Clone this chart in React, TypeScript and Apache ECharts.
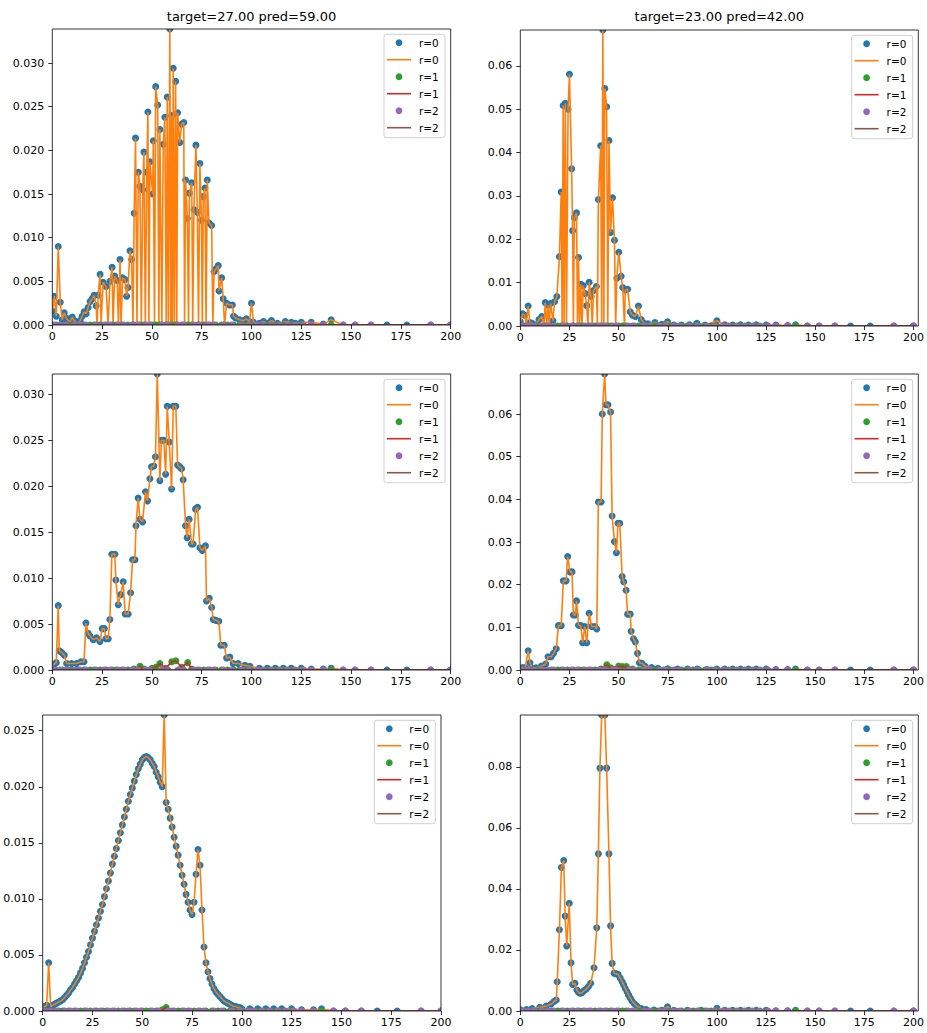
import React, { useEffect, useRef } from "react";
import * as echarts from "echarts";

const FONT = "DejaVu Sans";
const TITLES = ["target=27.00 pred=59.00", "target=23.00 pred=42.00"];
const LEGEND_LABELS = ["r=0", "r=0", "r=1", "r=1", "r=2", "r=2"];
const COLORS = ["#1f77b4", "#ff7f0e", "#2ca02c", "#d62728", "#9467bd", "#8c564b"];
const X_TICKS_STEP = 25;
const Y_STEPS = [0.005, 0.01, 0.005, 0.01, 0.005, 0.02];
const Y_DECIMALS = [3, 2, 3, 2, 3, 2];

// r=0 distributions, [value, probability]
const P1: number[][] = [[0,0.0016],[1,0.0033],[2,0.0010],[3,0.0090],[4,0.0026],[5,0.0006],[6,0.0014],[7,0.0008],[8,0.0005],[9,0.0004],[10,0.0009],[11,0.0005],[12,0.0003],[13,0.0002],[14,0.0005],[15,0.0010],[16,0.0015],[17,0.0013],[18,0.0020],[19,0.0027],[20,0.0030],[21,0.0034],[22,0.0022],[22.5,0],[23,0.0034],[24,0.0058],[24.5,0],[25.5,0.0049],[27,0.0044],[28,0],[29,0.0050],[30,0.0066],[30.5,0],[31.3,0.0056],[32.6,0.0051],[33.2,0],[34,0.0075],[34.5,0],[35.3,0.0054],[36.5,0.0052],[37.3,0.0033],[38,0.0043],[39,0.0085],[39.8,0.0075],[40.5,0],[41.1,0.0128],[41.8,0.0214],[42.5,0],[43.2,0.0175],[44,0.0159],[44.7,0],[45.4,0.0155],[46,0.0198],[46.7,0],[47.4,0.0175],[48,0.0244],[48.5,0],[49,0.0187],[50.4,0.0150],[50.7,0.0211],[51.3,0],[51.9,0.0273],[52.9,0.0252],[53.5,0],[54,0.0224],[55,0],[55.7,0.0207],[56.5,0.0238],[57.2,0],[57.7,0.0261],[58.3,0],[59,0.0339],[59.5,0],[59.9,0.0240],[60.3,0],[60.7,0.0294],[61.3,0],[61.9,0.0279],[62.5,0],[62.9,0.0243],[64,0.0209],[64.9,0.0230],[66,0.0232],[66.4,0],[66.9,0.0166],[67.8,0.0122],[68.4,0],[68.8,0.0151],[70,0.0163],[70.5,0],[71.1,0.0132],[72.1,0.0206],[72.8,0.0129],[73.4,0],[74.1,0.0185],[74.9,0.0120],[75.3,0],[75.8,0.0147],[76.6,0.0157],[77.2,0],[77.8,0.0166],[78.6,0.0117],[80,0.0114],[80.6,0],[81.2,0.0061],[82.1,0.0064],[83.3,0.0068],[83.7,0.0039],[85,0.0054],[85.8,0.0030],[86.5,0],[87.5,0.0025],[88.9,0.0023],[90.4,0.0023],[91,0.0010],[92,0.0008],[94,0.0006],[96,0.0005],[97.4,0.0007],[99,0.0004],[100,0.0025],[101,0.0003],[104,0.0002],[106,0.0004],[108,0.0002],[110,0.0005],[113,0.0002],[117,0.0004],[120,0.0003],[122,0.0002],[125,0.0003],[130,0.0003],[136,0.0001],[140,0.0006],[146,0],[152,0],[160,0],[168,0],[178,0],[190,0],[200,0]];

const P2: number[][] = [[0,0.0010],[1.2,0.0028],[2.3,0.0025],[3,0],[4,0.0046],[4.9,0.0008],[6,0.0006],[8,0.0003],[9.5,0.0015],[10.9,0.0022],[12,0],[12.7,0.0054],[13.4,0],[14.1,0.0048],[14.7,0],[15.4,0.0052],[16.6,0.0012],[17.4,0.0056],[18.6,0.0068],[19.9,0.0160],[20.8,0.0309],[21.3,0],[21.8,0.0509],[22.3,0],[22.9,0.0514],[23.5,0],[24.3,0.0500],[25,0.0581],[26.1,0.0363],[26.6,0.0220],[27,0],[27.5,0.0250],[28.6,0.0261],[29.1,0],[29.6,0.0158],[30.2,0],[30.8,0.0096],[31.4,0],[32,0.0093],[33,0.0075],[33.8,0.0047],[34.4,0],[35,0.0101],[36,0.0068],[36.6,0],[37.2,0.0082],[38.7,0.0091],[39.2,0],[39.7,0.0292],[40.9,0.0416],[41.4,0],[42,0.0683],[42.5,0],[43,0.0548],[43.9,0.0506],[44.5,0],[45.1,0.0428],[45.9,0.0216],[46.9,0.0296],[47.9,0.0198],[48.5,0],[49.1,0.0110],[50.1,0.0170],[51.3,0.0115],[52.1,0.0089],[53,0],[53.4,0.0083],[54.6,0.0085],[55.9,0.0033],[57.1,0.0025],[58.5,0.0022],[60.1,0.0046],[61.5,0.0015],[63,0.0006],[65,0.0005],[68.5,0.0008],[72,0.0004],[74.9,0.0010],[78,0.0002],[82,0.0002],[86,0.0003],[89.8,0.0006],[94,0.0002],[100,0.0012],[104,0.0003],[108,0.0002],[112,0.0003],[116,0.0002],[120,0.0003],[125,0.0002],[130,0.0002],[136,0.0001],[140,0.0003],[146,0],[152,0],[160,0],[168,0],[178,0],[190,0],[200,0]];

const TAIL: number[][] = [[104,0.0002],[108,0.0002],[112,0.0002],[116,0.0002],[120,0.0002],[125,0.0002],[130,0.0001],[136,0.0001],[140,0.0002],[146,0],[152,0],[160,0],[168,0],[178,0],[190,0],[200,0]];

const P3_MAIN: number[][] = [[0,0.0006],[0.8,0.0006],[2,0.0008],[3,0.0070],[3.5,0.0021],[4.7,0.0019],[6,0.0016],[7.2,0.0007],[9.7,0.0007],[12.2,0.0007],[14.4,0.0009],[15.9,0.0009],[16.9,0.0051],[18,0.0040],[18.9,0.0037],[20.6,0.0033],[22.2,0.0035],[23.9,0.0031],[25.1,0.0045],[26.1,0.0045],[26.9,0.0034],[28.1,0.0034],[28.9,0.0055],[29.9,0.0126],[31.4,0.0126],[31.9,0.0098],[33.1,0.0071],[34.3,0.0082],[35.6,0.0096],[36.6,0.0061],[38.1,0.0061],[39.3,0.0084],[40.3,0.0120],[41.5,0.0120],[42,0.0157],[43.1,0.0187],[44,0.0164],[45.3,0.0161],[46.8,0.0194],[47.8,0.0184],[49,0.0208],[49.8,0.0221],[51,0.0222],[51.8,0.0232],[52.7,0.0322],[54,0.0206],[54.8,0.0250],[56,0.0250],[56.9,0.0213],[57.7,0.0287],[58.7,0.0248],[59.9,0.0197],[60.7,0.0287],[62,0.0287],[62.9,0.0223],[64,0.0221],[64.9,0.0219],[65.7,0.0207],[66.9,0.0157],[67.7,0.0144],[68.7,0.0164],[69.9,0.0137],[70.7,0.0137],[71.9,0.0175],[72.9,0.0177],[74.1,0.0133],[75.3,0.0130],[76.9,0.0135],[77.4,0.0075],[78.8,0.0078],[80,0.0068],[80.8,0.0055],[82.1,0.0054],[83.6,0.0053],[84.6,0.0027],[86.3,0.0027],[87.5,0.0013],[89.1,0.0014],[90.8,0.0007],[93.3,0.0007],[96.7,0.0005],[99.2,0.0004]];

const P4_MAIN: number[][] = [[0,0.0004],[1.2,0.0006],[2.5,0.0005],[4,0.0045],[4.9,0.0017],[6,0.0004],[8,0.0005],[10.7,0.0009],[12.9,0.0014],[14.1,0.0031],[15.7,0.0031],[16.9,0.0039],[18.3,0.0050],[19.4,0.0104],[20.8,0.0104],[21.9,0.0209],[23.3,0.0209],[24.1,0.0266],[25.3,0.0230],[26.3,0.0230],[27,0.0129],[28,0.0129],[28.6,0.0162],[29.6,0.0105],[30.8,0.0104],[31.7,0.0064],[32.8,0.0102],[33.8,0.0064],[35,0.0133],[36.3,0.0102],[37.9,0.0102],[38.9,0.0096],[39.7,0.0394],[41.1,0.0394],[41.7,0.0600],[42.9,0.0694],[43.6,0.0622],[44.6,0.0622],[45.9,0.0605],[46.7,0.0361],[47.9,0.0301],[48.9,0.0275],[49.7,0.0344],[50.6,0.0344],[51.8,0.0219],[52.6,0.0207],[53.8,0.0187],[54.6,0.0131],[55.9,0.0131],[56.4,0.0091],[57.6,0.0073],[58.5,0.0066],[59.6,0.0039],[60.6,0.0017],[61.8,0.0016],[63.5,0.0009],[66.8,0.0006],[70,0.0004],[75,0.0003],[80,0.0002],[85,0.0002],[90,0.0002],[95,0.0001],[100,0.0002]];

const P5_MAIN: number[][] = [[0,0.0004],[1,0.0004],[2,0.0005],[3,0.0043],[4,0.0004],[5,0.0005],[6,0.0006],[7,0.0007],[8,0.0008],[9,0.0009],[10,0.0010],[11,0.0012],[12,0.0014],[13,0.0016],[14,0.0019],[15,0.0021],[16,0.0024],[17,0.0027],[18,0.0030],[19,0.0034],[20,0.0038],[21,0.0043],[22,0.0048],[23,0.0053],[24,0.0059],[25,0.0065],[26,0.0071],[27,0.0077],[28,0.0083],[29,0.0089],[30,0.0095],[31,0.0102],[32,0.0109],[33,0.0116],[34,0.0123],[35,0.0131],[36,0.0138],[37,0.0145],[38,0.0152],[39,0.0159],[40,0.0166],[41,0.0173],[42,0.0180],[43,0.0187],[44,0.0193],[45,0.0199],[46,0.0205],[47,0.0211],[48,0.0216],[49,0.0220],[50,0.0224],[51,0.0226],[52,0.0227],[53,0.0226],[54,0.0224],[55,0.0221],[56,0.0218],[57,0.0213],[58,0.0209],[59,0.0204],[60,0.0200],[61,0.0264],[62,0.0186],[63,0.0180],[64,0.0172],[65,0.0164],[66,0.0155],[67,0.0147],[68,0.0139],[69,0.0130],[70,0.0121],[71,0.0113],[72,0.0104],[73,0.0097],[74,0.0090],[75,0.0086],[76,0.0097],[77,0.0122],[78,0.0144],[79,0.0130],[80,0.0090],[81,0.0057],[82,0.0043],[83,0.0035],[84,0.0029],[85,0.0024],[86,0.0020],[87,0.0017],[88,0.0015],[89,0.0013],[90,0.0011],[91,0.0009],[92,0.0008],[93,0.0007],[94,0.0006],[95,0.0005],[96,0.0004],[97,0.0004],[98,0.0003],[99,0.0003],[100,0.0002]];

const P6_MAIN: number[][] = [[0,0.0004],[3.2,0.0005],[6,0.0008],[9.9,0.0012],[13.2,0.0016],[15.7,0.0023],[17.1,0.0031],[18.3,0.0036],[18.8,0.0096],[19.9,0.0266],[20.9,0.0470],[22.1,0.0493],[22.8,0.0311],[23.6,0.0213],[24.9,0.0353],[25.8,0.0158],[26.6,0.0087],[27.8,0.0091],[28.8,0.0069],[29.5,0.0062],[30.3,0.0058],[31.4,0.0060],[32.5,0.0067],[33.6,0.0072],[34.7,0.0080],[35.8,0.0091],[37.5,0.0142],[38.9,0.0273],[39.7,0.0515],[40.5,0.0796],[41.4,0.0970],[43,0.0970],[43.9,0.0796],[45.1,0.0515],[45.9,0.0279],[46.7,0.0156],[47.7,0.0124],[48.7,0.0122],[49.7,0.0120],[50.8,0.0108],[51.8,0.0096],[52.6,0.0085],[53.4,0.0074],[54.3,0.0063],[55.1,0.0052],[56,0.0042],[56.8,0.0033],[58,0.0024],[59.3,0.0016],[61.5,0.0008],[64,0.0005],[68,0.0003],[72,0.0002],[74.9,0.0014],[78,0.0002],[85,0.0002],[92,0.0002],[100,0.0009]];

const P3 = [...P3_MAIN, ...TAIL];
const P4 = [...P4_MAIN, ...TAIL];
const P5 = [...P5_MAIN, ...TAIL];
const P6 = [...P6_MAIN, ...TAIL];

// r=1 and r=2 support and values
const R1_X = [0,2,5,8,10,13,16,19,21,24,27,30,32,35,38,41,44,46,50,52,54,57,60,62,65,68,70,73,76,79,82,85,88,91,94,97,100,104,108,112,116,120,125,140,200];
const R1_FLAT = [0,0,0,0,0,0,0,0,0,0,0,0,0,0,0,0,0,0,0,0,0,0,0,0,0,0,0,0,0,0,0,0,0,0,0,0,0,0,0,0,0,0,0,0,0];
const R1_P3 = [0,0,0,0,0,0,0,0,0,0,0,0,0,0,0,0.0001,0.0004,0.0001,0.0002,0.0003,0.0007,0.0002,0.0009,0.0010,0.0003,0.0008,0.0001,0,0,0,0,0,0,0,0,0,0,0,0,0,0,0,0,0,0];
const R1_P4 = [0,0,0,0,0,0,0,0,0,0,0,0,0,0,0,0.0002,0.0012,0.0005,0.0009,0.0008,0.0008,0.0002,0,0,0,0,0,0,0,0,0,0,0,0,0,0,0,0,0,0,0,0,0,0,0];
const R1_P5 = [0,0,0,0,0,0,0,0,0,0,0,0,0,0,0,0,0,0,0,0,0,0,0.0001,0.0003,0,0,0,0,0,0,0,0,0,0,0,0,0,0,0,0,0,0,0,0,0];
const R2_X = [1,4,7,11,14,17,22,26,29,33,36,40,43,47,49,55,58,63,66,71,74,78,81,86,90,95,99,103,106,110,114,118,122,126,130,136,146,152,160,190,200];
const R2_FLAT = [0,0,0,0,0,0,0,0,0,0,0,0,0,0,0,0,0,0,0,0,0,0,0,0,0,0,0,0,0,0,0,0,0,0,0,0,0,0,0,0,0];

const PANELS = [P1, P2, P3, P4, P5, P6];
const R1_VALUES = [R1_FLAT, R1_FLAT, R1_P3, R1_P4, R1_P5, R1_FLAT];

const GRIDS = [
  { left: 52.3, top: 29, width: 398.4, height: 296 },
  { left: 520.3, top: 30, width: 398, height: 296 },
  { left: 52.3, top: 374, width: 398.4, height: 296 },
  { left: 520.3, top: 374, width: 398, height: 296 },
  { left: 42.7, top: 715, width: 398.3, height: 296 },
  { left: 520.3, top: 715, width: 398, height: 296 },
];

function buildOption() {
  const grid = GRIDS.map((g) => ({ ...g, show: false, containLabel: false }));
  const xAxis = GRIDS.map((_, i) => ({
    type: "value", gridIndex: i, min: 0, max: 200, interval: X_TICKS_STEP, z: 300,
    axisLine: { show: false }, splitLine: { show: false },
    axisTick: { show: true, length: 4, lineStyle: { color: "#000", width: 0.8 } },
    axisLabel: { fontSize: 11, color: "#000", margin: 6, fontFamily: FONT },
  }));
  const yAxis = GRIDS.map((_, i) => ({
    type: "value", gridIndex: i, min: 0, max: Math.max(...PANELS[i].map((p) => p[1])),
    interval: Y_STEPS[i], z: 300,
    axisLine: { show: false }, splitLine: { show: false },
    axisTick: { show: true, length: 4, lineStyle: { color: "#000", width: 0.8 } },
    axisLabel: {
      fontSize: 11, color: "#000", margin: 8, fontFamily: FONT, showMaxLabel: false,
      formatter: (v: number) => v.toFixed(Y_DECIMALS[i]),
    },
  }));
  const series: any[] = [];
  PANELS.forEach((data, i) => {
    const r1 = R1_X.map((x, k) => [x, R1_VALUES[i][k]]);
    const r2 = R2_X.map((x, k) => [x, R2_FLAT[k]]);
    const sets = [data, data, r1, r1, r2, r2];
    sets.forEach((d, k) => {
      if (k % 2 === 0) {
        series.push({
          type: "scatter", xAxisIndex: i, yAxisIndex: i, data: d, symbolSize: 7,
          itemStyle: { color: COLORS[k], opacity: 1 }, silent: true, z: 2 + k * 0.01,
        });
      } else {
        series.push({
          type: "line", xAxisIndex: i, yAxisIndex: i, data: d, showSymbol: false, symbol: "none",
          lineStyle: { color: COLORS[k], width: 1.6 }, itemStyle: { color: COLORS[k] },
          silent: true, z: 2 + k * 0.01,
        });
      }
    });
  });

  const graphics: any[] = [];
  GRIDS.forEach((g, i) => {
    const right = g.left + g.width;
    const bottom = g.top + g.height;
    const M = 9;
    [
      { x: g.left - M, y: g.top - M, width: g.width + 2 * M, height: M },
      { x: g.left - M, y: bottom, width: g.width + 2 * M, height: M },
      { x: g.left - M, y: g.top, width: M, height: g.height },
      { x: right, y: g.top, width: M, height: g.height },
    ].forEach((r) => graphics.push({ type: "rect", shape: r, style: { fill: "#fff" }, z: 200, silent: true }));
    graphics.push({
      type: "rect", shape: { x: g.left, y: g.top, width: g.width, height: g.height },
      style: { fill: "none", stroke: "#000", lineWidth: 0.8 }, z: 250, silent: true,
    });
    const bx = right - 5.7 - 61;
    const by = g.top + 5.3;
    graphics.push({
      type: "rect", shape: { x: bx, y: by, width: 61, height: 103.4, r: 2.5 },
      style: { fill: "rgba(255,255,255,0.8)", stroke: "#d0d0d0", lineWidth: 1 }, z: 260, silent: true,
    });
    LEGEND_LABELS.forEach((lab, k) => {
      const cy = by + 8.4 + k * 17;
      if (k % 2 === 0) {
        graphics.push({ type: "circle", shape: { cx: bx + 15, cy, r: 3.4 }, style: { fill: COLORS[k] }, z: 261, silent: true });
      } else {
        graphics.push({ type: "line", shape: { x1: bx + 3, y1: cy, x2: bx + 27, y2: cy }, style: { stroke: COLORS[k], lineWidth: 1.6 }, z: 261, silent: true });
      }
      graphics.push({
        type: "text", x: bx + 35, y: cy, z: 261, silent: true,
        style: { text: lab, fill: "#000", fontSize: 10.5, fontFamily: FONT, align: "left", verticalAlign: "middle" },
      });
    });
  });
  TITLES.forEach((t, i) => {
    const g = GRIDS[i];
    graphics.push({
      type: "text", x: g.left + g.width / 2, y: 16.5, z: 300, silent: true,
      style: { text: t, fill: "#000", fontSize: 13, fontFamily: FONT, align: "center", verticalAlign: "middle" },
    });
  });

  return {
    animation: false,
    backgroundColor: "#fff",
    textStyle: { fontFamily: FONT },
    grid, xAxis, yAxis, series,
    graphic: { elements: graphics },
  };
}

export default function App() {
  const ref = useRef<HTMLDivElement>(null);
  useEffect(() => {
    if (!ref.current) return;
    const chart = echarts.init(ref.current, undefined, { renderer: "svg" });
    chart.setOption(buildOption() as any);
    return () => chart.dispose();
  }, []);
  return (
    <div
      ref={ref}
      style={{ position: "absolute", left: 0, top: 0, width: 927, height: 1033, background: "#fff" }}
    />
  );
}
